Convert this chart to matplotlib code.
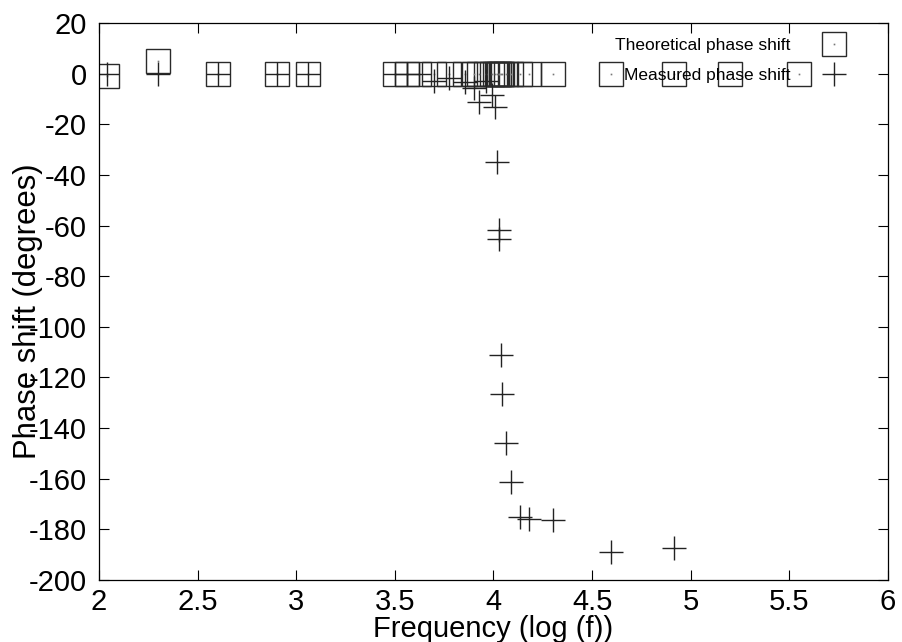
import matplotlib
matplotlib.use("Agg")
import matplotlib.pyplot as plt

plt.rcParams['font.family'] = ['Liberation Sans', 'DejaVu Sans']

# ---- data ----
freq_theory = [2.041, 2.301, 2.602, 2.903, 3.061, 3.502, 3.563, 3.624, 3.700, 3.776,
               3.856, 3.901, 3.928, 3.962, 3.994, 4.007, 4.020, 4.026, 4.029, 4.039,
               4.045, 4.063, 4.089, 4.136, 4.178, 4.303, 4.596, 4.915, 5.199, 5.549]
phase_theory = [-1, 5, 0, 0, 0, 0, 0, 0, 0, 0,
                0, 0, 0, 0, 0, 0, 0, 0, 0, 0,
                0, 0, 0, 0, 0, 0, 0, 0, 0, 0]

freq_meas = [2.041, 2.301, 2.602, 2.903, 3.061, 3.502, 3.563, 3.624, 3.700, 3.776,
             3.856, 3.901, 3.928, 3.962, 3.994, 4.007, 4.020, 4.026, 4.029, 4.039,
             4.045, 4.063, 4.089, 4.136, 4.178, 4.303, 4.596, 4.915]
phase_meas = [0, 0, 0, 0, 0, 0, 0, 0, -2.9, -1.9,
              -3.2, -5.8, -11.1, -2.8, -8.5, -13.2, -35, -61.6, -65.5, -111,
              -126.4, -145.9, -161.3, -175.1, -175.8, -176.2, -189, -187.5]

xticks = [2, 2.5, 3, 3.5, 4, 4.5, 5, 5.5, 6]
xticklabels = ["2", "2.5", "3", "3.5", "4", "4.5", "5", "5.5", "6"]
yticks = [20, 0, -20, -40, -60, -80, -100, -120, -140, -160, -180, -200]
yticklabels = ["20", "0", "-20", "-40", "-60", "-80", "-100", "-120", "-140", "-160", "-180", "-200"]

W, H = 903, 642
fig = plt.figure(figsize=(W / 100, H / 100), dpi=100)
ax = fig.add_axes([99 / W, 62 / H, 789 / W, 557 / H])

sq, = ax.plot(freq_theory, phase_theory, linestyle='none', marker='s', ms=17,
              mfc='none', mec='#2a2a2a', mew=1.0)
dot, = ax.plot(freq_theory, phase_theory, linestyle='none', marker='s', ms=1.2,
               mfc='#777777', mec='#777777', mew=0)
pl, = ax.plot(freq_meas, phase_meas, linestyle='none', marker='+', ms=17,
              color='#222222', mew=1.0)

ax.set_xlim(2, 6)
ax.set_ylim(-200, 20)
ax.set_xticks(xticks)
ax.set_xticklabels(xticklabels)
ax.set_yticks(yticks)
ax.set_yticklabels(yticklabels)
ax.tick_params(axis='both', direction='in', length=7, width=0.8, top=True, right=True,
               labelsize=21, colors='black')
ax.tick_params(axis='x', pad=5.5)
ax.tick_params(axis='y', pad=8.6)
for s in ax.spines.values():
    s.set_linewidth(0.9)
    s.set_color('black')

fig.text(493 / W, 5 / H, 'Frequency (log (f))', ha='center', va='baseline', fontsize=21)
fig.text(28 / W, 1 - 311 / H, 'Phase shift (degrees)', rotation=90, ha='center',
         va='center', fontsize=22.4)

leg = ax.legend([(sq, dot), pl], ['Theoretical phase shift', 'Measured phase shift'],
                loc='upper right', bbox_to_anchor=(851 / W, 1 - 38 / H),
                bbox_transform=fig.transFigure, frameon=False, markerfirst=False,
                fontsize=12.5, handlelength=2.0, handletextpad=1.5, labelspacing=0.83,
                borderpad=0, borderaxespad=0)

fig.savefig('out.png', dpi=100)
